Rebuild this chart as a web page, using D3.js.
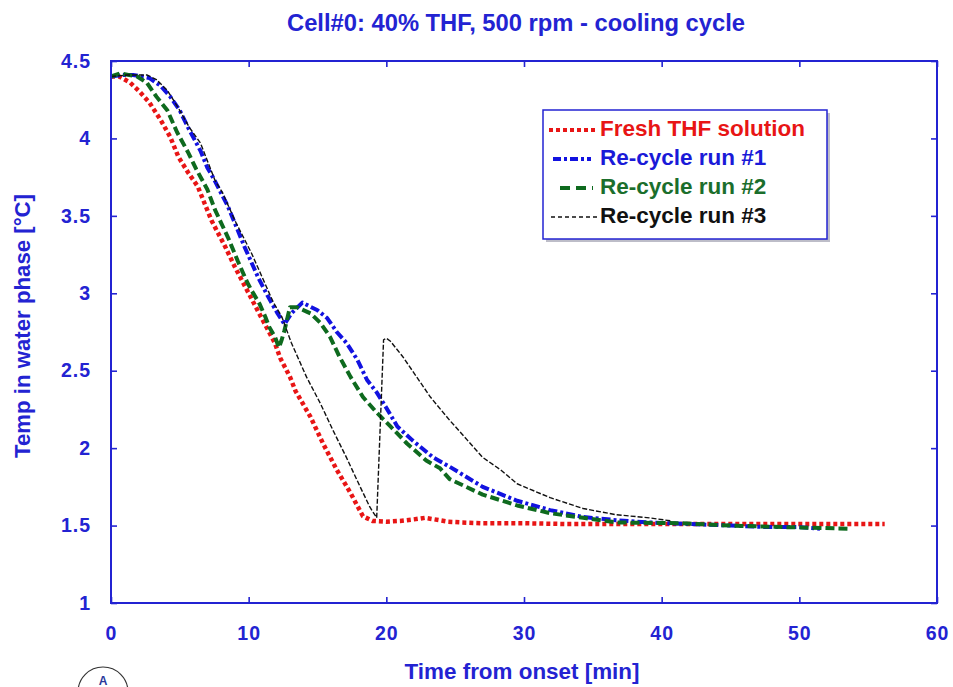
<!DOCTYPE html>
<html>
<head>
<meta charset="utf-8">
<script src="https://cdn.jsdelivr.net/npm/d3@7"></script>
<style>
  html, body { margin: 0; padding: 0; background: #fff; }
  svg { display: block; }
  text { font-family: "Liberation Sans", Arial, sans-serif; font-weight: bold; }
  .tick text { font-size: 19.5px; letter-spacing: 1px; }
</style>
</head>
<body>
<svg id="chart" width="953" height="687"></svg>
<script>
// ---------- data ----------
const title = "Cell#0: 40% THF, 500 rpm - cooling cycle";
const xLabel = "Time from onset [min]";
const yLabel = "Temp in water phase [°C]";
const xTicks = [0, 10, 20, 30, 40, 50, 60];
const yTicks = [1, 1.5, 2, 2.5, 3, 3.5, 4, 4.5];
const seriesNames = ["Fresh THF solution", "Re-cycle run #1", "Re-cycle run #2", "Re-cycle run #3"];

const freshT = [0, 0.6, 1.4, 2.1, 2.8, 3.6, 4.3, 4.9, 5.6, 6.3, 6.8, 7.3, 8.3, 9.0, 10.0, 11.0, 11.9, 12.3, 13.0, 13.4, 14.5, 15.4, 16.4, 17.4, 18.3, 19.0, 20, 21, 22, 22.8, 23.5, 24.5, 25.5, 27, 30, 33, 36, 40, 44, 48, 52, 56.2];
const freshV = [4.40, 4.40, 4.36, 4.30, 4.23, 4.12, 4.01, 3.88, 3.78, 3.69, 3.58, 3.47, 3.30, 3.17, 3.00, 2.83, 2.68, 2.58, 2.46, 2.37, 2.20, 2.03, 1.86, 1.71, 1.56, 1.53, 1.525, 1.53, 1.54, 1.55, 1.54, 1.525, 1.52, 1.515, 1.515, 1.51, 1.51, 1.51, 1.51, 1.51, 1.51, 1.51];

const run1T = [0, 0.8, 1.6, 2.8, 3.6, 4.3, 5.0, 5.6, 6.5, 7.0, 7.4, 8.5, 9.7, 10.7, 11.4, 12.1, 12.6, 13.1, 13.9, 15.0, 15.7, 16.4, 17.1, 17.9, 18.6, 19.3, 20.0, 20.8, 21.9, 23.4, 24.6, 27.0, 29.5, 31.9, 34.3, 36.7, 39.1, 42, 45, 47.6, 50, 51.5];
const run1V = [4.40, 4.41, 4.41, 4.39, 4.34, 4.27, 4.18, 4.07, 3.92, 3.81, 3.75, 3.56, 3.30, 3.10, 2.98, 2.87, 2.80, 2.87, 2.94, 2.89, 2.84, 2.75, 2.68, 2.57, 2.44, 2.36, 2.26, 2.14, 2.05, 1.94, 1.88, 1.75, 1.66, 1.60, 1.555, 1.535, 1.52, 1.51, 1.50, 1.49, 1.49, 1.48];

const run2T = [0, 0.65, 1.9, 2.6, 3.3, 4.1, 4.8, 5.6, 6.2, 7.0, 7.55, 8.5, 9.2, 9.9, 10.2, 10.8, 11.2, 11.5, 11.9, 12.2, 12.4, 12.6, 13.0, 13.5, 14.5, 15.2, 15.9, 16.6, 17.4, 18.3, 19.3, 20.3, 21.5, 22.9, 23.9, 24.6, 27.0, 29.5, 31.9, 34.3, 36.7, 41.5, 45, 49, 53.5];
const run2V = [4.40, 4.42, 4.40, 4.36, 4.27, 4.18, 4.04, 3.91, 3.80, 3.67, 3.54, 3.36, 3.21, 3.07, 3.02, 2.93, 2.85, 2.78, 2.72, 2.65, 2.70, 2.76, 2.91, 2.91, 2.87, 2.81, 2.72, 2.59, 2.46, 2.33, 2.23, 2.14, 2.03, 1.92, 1.87, 1.80, 1.70, 1.63, 1.58, 1.55, 1.52, 1.515, 1.50, 1.49, 1.48];

const run3T = [0, 1.2, 2.6, 3.3, 4.1, 5.0, 5.7, 6.5, 7.2, 7.55, 8.1, 9.0, 10.2, 11.4, 11.8, 12.4, 13.1, 14.2, 15.2, 16.1, 17.1, 18.1, 18.8, 19.3, 19.8, 20.0, 20.3, 21.2, 22.2, 23.2, 24.6, 25.9, 27.0, 28.3, 29.5, 31.9, 34.3, 36.7, 39.1, 40.7];
const run3V = [4.40, 4.41, 4.41, 4.38, 4.31, 4.18, 4.07, 3.97, 3.81, 3.73, 3.65, 3.47, 3.26, 3.02, 2.94, 2.85, 2.68, 2.46, 2.29, 2.12, 1.94, 1.75, 1.62, 1.55, 2.70, 2.71, 2.69, 2.59, 2.46, 2.33, 2.18, 2.05, 1.94, 1.86, 1.77, 1.68, 1.61, 1.57, 1.55, 1.53];

// ---------- layout / style ----------
const W = 953, H = 687;
const M = { left: 111, right: 937, top: 61, bottom: 603 };
const AX = "#2323d2";
const styles = [
  { color: "#e81515", width: 4.5, dash: "4,3", textColor: "#e81515" },
  { color: "#1212e0", width: 4, dash: "9,3,3,3", textColor: "#1a1ad8" },
  { color: "#0e6a1e", width: 4, dash: "9,4", textColor: "#1b6e2c" },
  { color: "#111111", width: 1.4, dash: "5,2", textColor: "#111111" }
];

const svg = d3.select("#chart");
const x = d3.scaleLinear().domain([0, 60]).range([M.left, M.right]);
const y = d3.scaleLinear().domain([1, 4.5]).range([M.bottom, M.top]);

function fit(sel, target) {
  const n = sel.node();
  let fs = parseFloat(sel.attr("font-size"));
  const w = n.getComputedTextLength();
  if (w > 0) sel.attr("font-size", (fs * target / w).toFixed(2));
}

// data series
const series = [
  { t: freshT, v: freshV },
  { t: run1T, v: run1V },
  { t: run2T, v: run2V },
  { t: run3T, v: run3V }
];
const line = d3.line().x(d => x(d[0])).y(d => y(d[1]));
const plot = svg.append("g");
series.forEach((s, i) => {
  const pts = s.t.map((t, k) => [t, s.v[k]]);
  plot.append("path")
    .attr("d", line(pts))
    .attr("fill", "none")
    .attr("stroke", styles[i].color)
    .attr("stroke-width", styles[i].width)
    .attr("stroke-dasharray", styles[i].dash)
    .attr("stroke-linejoin", "round");
});

// axes (inward ticks on all four sides)
const tickLen = 6;
const axB = svg.append("g").attr("transform", `translate(0,${M.bottom})`)
  .call(d3.axisBottom(x).tickValues(xTicks).tickSize(-tickLen).tickPadding(23).tickFormat(d3.format("d")));
const axT = svg.append("g").attr("transform", `translate(0,${M.top})`)
  .call(d3.axisTop(x).tickValues(xTicks).tickSize(-tickLen).tickFormat(""));
const axL = svg.append("g").attr("transform", `translate(${M.left},0)`)
  .call(d3.axisLeft(y).tickValues(yTicks).tickSize(-tickLen).tickPadding(20).tickFormat(d => d3.format("")(d)));
const axR = svg.append("g").attr("transform", `translate(${M.right},0)`)
  .call(d3.axisRight(y).tickValues(yTicks).tickSize(-tickLen).tickFormat(""));
[axB, axT, axL, axR].forEach(a => {
  a.attr("font-size", null).attr("font-family", null);
  a.select(".domain").remove();
  a.selectAll(".tick line").attr("stroke", AX).attr("stroke-width", 1.6);
  a.selectAll(".tick text").attr("fill", AX);
});
// frame
svg.append("rect")
  .attr("x", M.left).attr("y", M.top)
  .attr("width", M.right - M.left).attr("height", M.bottom - M.top)
  .attr("fill", "none").attr("stroke", AX).attr("stroke-width", 2);

// title
const tt = svg.append("text").attr("x", 516).attr("y", 31).attr("text-anchor", "middle")
  .attr("fill", AX).attr("font-size", 18).text(title);
fit(tt, 458);
const xt = svg.append("text").attr("x", 522).attr("y", 679).attr("text-anchor", "middle")
  .attr("fill", AX).attr("font-size", 18).text(xLabel);
fit(xt, 235);
const yt = svg.append("text").attr("transform", "translate(30,326) rotate(-90)").attr("text-anchor", "middle")
  .attr("fill", AX).attr("font-size", 18).text(yLabel);
fit(yt, 264);

// legend
const lg = svg.append("g");
lg.append("rect").attr("x", 546).attr("y", 113).attr("width", 284).attr("height", 129)
  .attr("fill", "#bdbdc8");
lg.append("rect").attr("x", 543).attr("y", 110).attr("width", 284).attr("height", 129)
  .attr("fill", "#fff").attr("stroke", AX).attr("stroke-width", 1.5);
const legendRows = [130, 159, 188, 217];
const legendLines = [[549, 598], [553, 591], [560, 593], [551, 598]];
seriesNames.forEach((name, i) => {
  lg.append("line")
    .attr("x1", legendLines[i][0]).attr("x2", legendLines[i][1])
    .attr("y1", legendRows[i]).attr("y2", legendRows[i])
    .attr("stroke", styles[i].color)
    .attr("stroke-width", i === 3 ? 1.4 : 4)
    .attr("stroke-dasharray", i === 0 ? "4,3" : i === 1 ? "8,3,3,3" : i === 2 ? "10,6" : "4,3");
  lg.append("text").attr("x", 600).attr("y", legendRows[i] + 6)
    .attr("fill", styles[i].textColor).attr("font-size", 17).text(name);
});
fit(lg.selectAll("text").filter((d, i) => i === 0), 205);
const fs0 = lg.select("text").attr("font-size");
lg.selectAll("text").attr("font-size", fs0);

// partial circled label at the bottom-left
svg.append("circle").attr("cx", 103).attr("cy", 692).attr("r", 25)
  .attr("fill", "none").attr("stroke", "#333").attr("stroke-width", 1.2);
svg.append("text").attr("x", 103).attr("y", 685).attr("text-anchor", "middle")
  .attr("fill", "#2a3a9a").attr("font-size", 12).text("A");
</script>
</body>
</html>
